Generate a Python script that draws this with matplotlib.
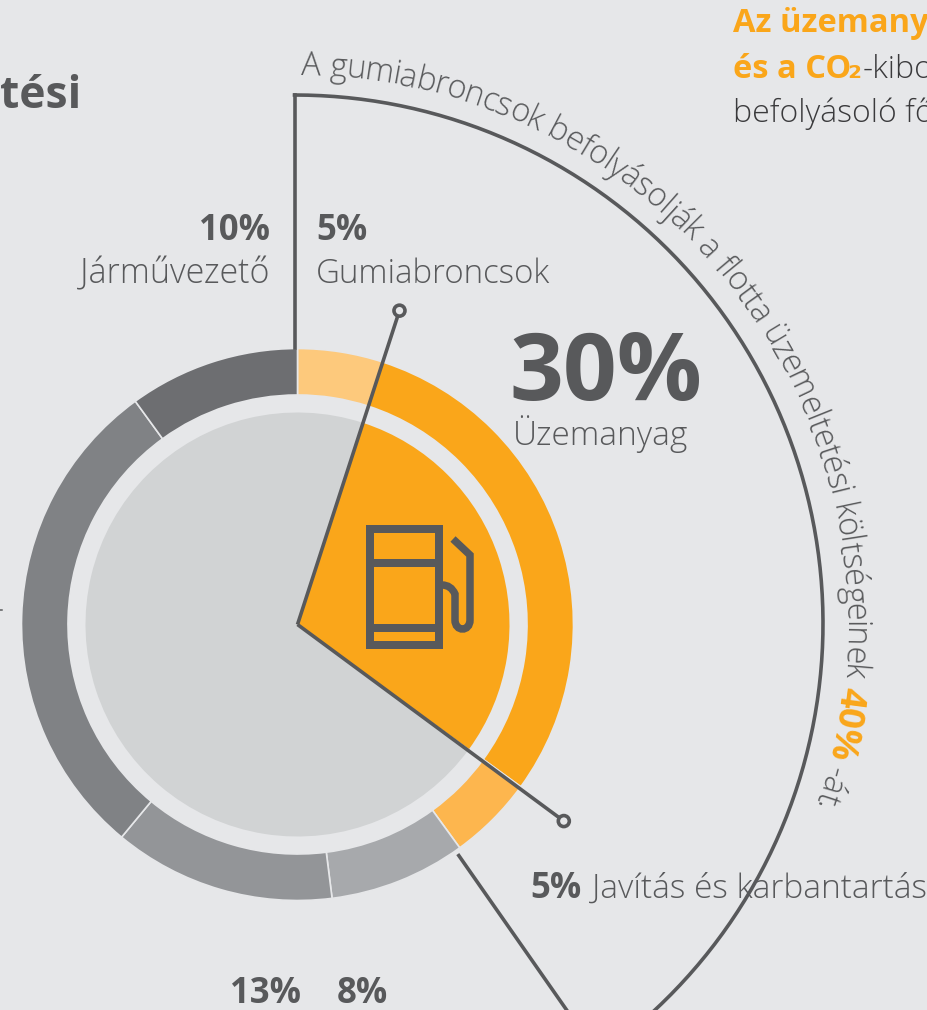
import numpy as np
import matplotlib
matplotlib.use("Agg")
import matplotlib.pyplot as plt
from matplotlib.patches import Rectangle, PathPatch, Circle
from matplotlib.path import Path
from matplotlib.font_manager import FontProperties
from matplotlib.textpath import text_to_path

# ---- data ----
ring_values = [5, 30, 5, 8, 13, 29, 10]
ring_colors = ["#FDC97C", "#FAA61A", "#FDB64E", "#A7A9AC", "#939598", "#808285", "#6D6E71"]
inner_offset = 5
inner_values = [30, 70]
inner_colors = ["#FAA61A", "#D1D3D4"]
arc_share = 40

BG = "#E6E7E9"; INK = "#58595B"; ORANGE = "#FAA61A"; DARK = "#3A3A3C"
W, H = 928, 1010
LIGHT = FontProperties(family="Open Sans", weight="light", size=24)
BOLD = FontProperties(family="Open Sans", weight="bold", size=25)

fig = plt.figure(figsize=(W/100, H/100), dpi=100, facecolor=BG)
ax = fig.add_axes([0, 0, 1, 1])
ax.set_facecolor(BG)
Y = lambda py: H - py
PT = 72/100

cx, cy = 297.5, Y(624.5)
ax.pie(ring_values, colors=ring_colors, center=(cx, cy), radius=276, startangle=90,
       counterclock=False, wedgeprops=dict(width=46.5, edgecolor=BG, linewidth=1.2))
ax.pie(inner_values, colors=inner_colors, center=(cx, cy), radius=212, startangle=90 - inner_offset*3.6,
       counterclock=False, wedgeprops=dict(linewidth=0))
ax.set_xlim(0, W); ax.set_ylim(0, H); ax.set_aspect("equal"); ax.axis("off")

def polar(share, r, c=(cx, cy)):
    a = np.deg2rad(np.asarray(share)*3.6)
    return c[0] + r*np.sin(a), c[1] + r*np.cos(a)

lw = 3.6*PT
for share, r in ((5, 330), (35.12, 331)):
    x, y = polar(share, r)
    ax.plot([cx, x], [cy, y], color=INK, lw=lw, solid_capstyle="butt", zorder=5)
    ax.add_patch(Circle((x, y), 5.5, fc=BG, ec=INK, lw=3.6*PT, zorder=6))

ac = (294.5, Y(623.5)); R = 528.5
t = np.linspace(0, arc_share, 200)
ax.plot(*polar(t, R, ac), color=INK, lw=lw, zorder=4)
ax.plot([295, 295], [Y(348), Y(95)], color=INK, lw=lw, solid_capstyle="projecting", zorder=4)
x0, y0 = polar(arc_share + 0.3, 280); x1, y1 = polar(arc_share + 0.3, 560)
ax.plot([x0, x1], [y0, y1], color=INK, lw=lw, zorder=4, solid_capstyle="butt")

lwi = 8*PT
ax.add_patch(Rectangle((370, Y(645)), 68.7, 116, fc="none", ec=INK, lw=lwi, zorder=5, joinstyle="miter"))
for py in (562.7, 628):
    ax.plot([366, 442], [Y(py), Y(py)], color=INK, lw=lwi, solid_capstyle="butt", zorder=5)
hv = [(442, 585), (451, 585), (455, 594), (455, 603), (455, 620), (455, 632), (470, 632), (470, 620),
      (470, 555), (453, 539)]
hc = [Path.MOVETO, Path.CURVE3, Path.CURVE3, Path.LINETO, Path.LINETO, Path.CURVE4, Path.CURVE4, Path.CURVE4,
      Path.LINETO, Path.LINETO]
ax.add_patch(PathPatch(Path([(a, Y(b)) for a, b in hv], hc), fc="none", ec=INK, lw=7.5*PT, zorder=5,
                       capstyle="butt", joinstyle="miter"))

ax.plot([0, 2], [Y(609.5), Y(609.5)], color=INK, lw=1.5*PT)

def T(x, py, s, fp=LIGHT, size=24, color=INK, ha="left"):
    p = fp.copy(); p.set_size(size)
    return ax.text(x, Y(py), s, fontproperties=p, color=color, ha=ha, va="baseline", zorder=7)

T(0, 108, "tési", BOLD, 32)
T(733, 32, "Az üzemany", BOLD, 23.5, ORANGE)
T(733, 78, "és a CO", BOLD, 23.5, ORANGE)
sub = FontProperties(family=["DejaVu Sans"], weight="bold", size=23)
ax.text(847, Y(78), "₂", fontproperties=sub, color=ORANGE, ha="left", va="baseline", zorder=7)
T(863, 78, "-kibo", LIGHT, 23, DARK)
T(733, 122, "befolyásoló fő", LIGHT, 23, DARK)
T(270, 240, "10%", BOLD, 25, ha="right")
T(270, 283, "Járművezető", LIGHT, 24.5, ha="right")
T(316, 240, "5%", BOLD, 25)
T(316, 283, "Gumiabroncsok", LIGHT, 23.8)
T(509, 400, "30%", BOLD, 68)
T(513, 445, "Üzemanyag", LIGHT, 24)
T(530, 898, "5%", BOLD, 25)
T(592, 898, "Javítás és karbantartás", LIGHT, 24)
T(230, 1003, "13%", BOLD, 25)
T(337, 1003, "8%", BOLD, 25)

runs = [("A gumiabroncsok befolyásolják a flotta üzemeltetési költségeinek ", LIGHT, INK, 23.5),
        ("40%", BOLD, ORANGE, 26),
        (" -át.", LIGHT, INK, 23.5)]
def width(s, fp):
    w, _, _ = text_to_path.get_text_width_height_descent(s, fp, False)
    return w*100/72
items = []; pos = 0.0
for s, fp, col, size in runs:
    p = fp.copy(); p.set_size(size)
    for i, ch in enumerate(s):
        a = width(s[:i], p); b = width(s[:i+1], p)
        items.append((ch, p, col, pos + a, pos + b))
    pos += width(s, p)
a0, a1, Rt = 0.7, 109.4, 550
scale = np.deg2rad(a1 - a0)*Rt/pos
for ch, p, col, a, b in items:
    if ch == " ":
        continue
    ang = a0 + np.rad2deg((a + b)/2*scale/Rt)
    r = np.deg2rad(ang)
    ax.text(295 + Rt*np.sin(r), Y(625) + Rt*np.cos(r), ch, fontproperties=p, color=col,
            rotation=-ang, rotation_mode="anchor", ha="center", va="baseline", zorder=7)
fig.savefig("out.png", dpi=100, facecolor=BG)
